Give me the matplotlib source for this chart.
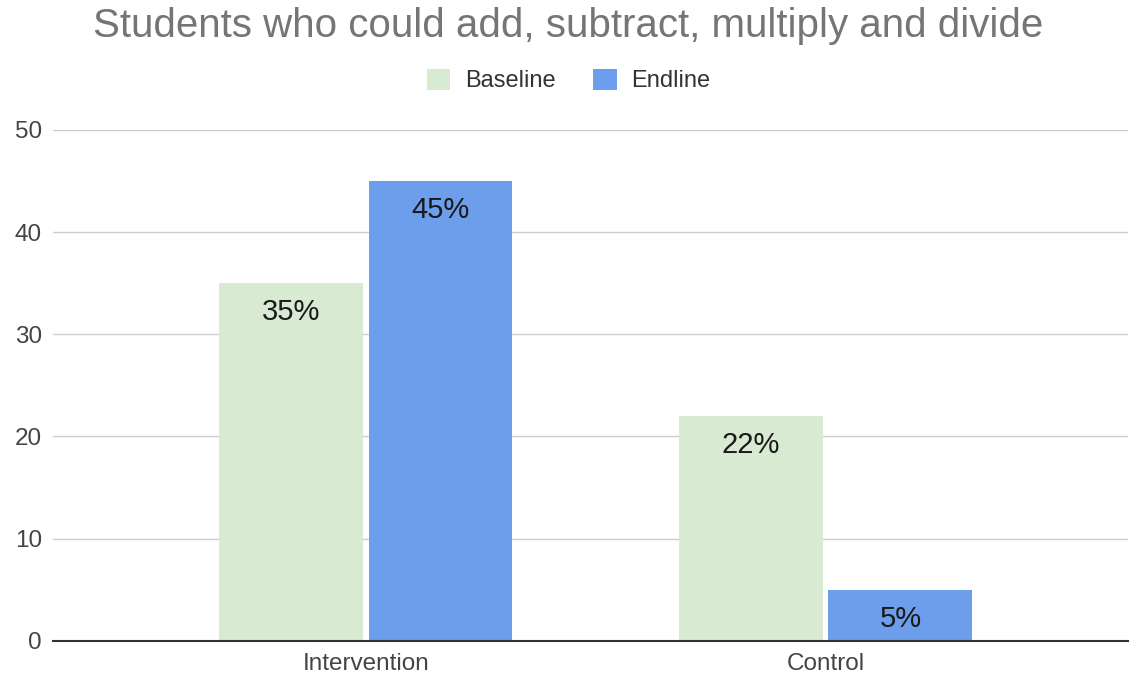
import matplotlib
matplotlib.use('Agg')
import matplotlib.pyplot as plt
import numpy as np

plt.rcParams['font.family'] = ['Liberation Sans', 'DejaVu Sans']

categories = ['Intervention', 'Control']
series_names = ['Baseline', 'Endline']
baseline = [35, 22]
endline = [45, 5]
y_ticks = [0, 10, 20, 30, 40, 50]

COLORS = {'Baseline': '#d9ead3', 'Endline': '#6d9eeb'}

fig = plt.figure(figsize=(11.3, 6.76), dpi=100, facecolor='white')
ax = fig.add_axes([0.047, 0.052, 0.951, 0.756])

x = np.arange(len(categories))
width = 0.313
offset = 0.1625
for vals, name, off in [(baseline, 'Baseline', -offset), (endline, 'Endline', offset)]:
    bars = ax.bar(x + off, vals, width, color=COLORS[name], label=name, zorder=2)
    for b, v in zip(bars, vals):
        ax.annotate(f'{v}%', (b.get_x() + b.get_width() / 2, v),
                    xytext=(0, -11), textcoords='offset points',
                    ha='center', va='top', fontsize=21, color='#1a1a1a', zorder=3)

ax.set_xlim(-0.68, 1.657)
ax.set_ylim(0, 50)
ax.set_yticks(y_ticks)
ax.set_xticks(x)
ax.set_xticklabels(categories)
ax.tick_params(axis='both', length=0, labelsize=17.5, labelcolor='#444444')
ax.tick_params(axis='y', pad=8)
ax.tick_params(axis='x', pad=9)
ax.yaxis.grid(True, color='#cccccc', linewidth=1, zorder=0)
ax.set_axisbelow(True)
for s in ['top', 'right', 'left']:
    ax.spines[s].set_visible(False)
ax.spines['bottom'].set_color('#333333')
ax.spines['bottom'].set_linewidth(1.5)
ax.spines['bottom'].set_zorder(4)

fig.text(0.503, 0.962, 'Students who could add, subtract, multiply and divide',
         ha='center', va='center', fontsize=29, color='#757575')
fig.legend(loc='center', bbox_to_anchor=(0.503, 0.881), ncol=2, frameon=False,
           fontsize=17, handlelength=1.0, handleheight=1.0, columnspacing=1.6,
           handletextpad=0.6, labelcolor='#333333')

plt.savefig('out.png', dpi=100, facecolor='white')
plt.close()
